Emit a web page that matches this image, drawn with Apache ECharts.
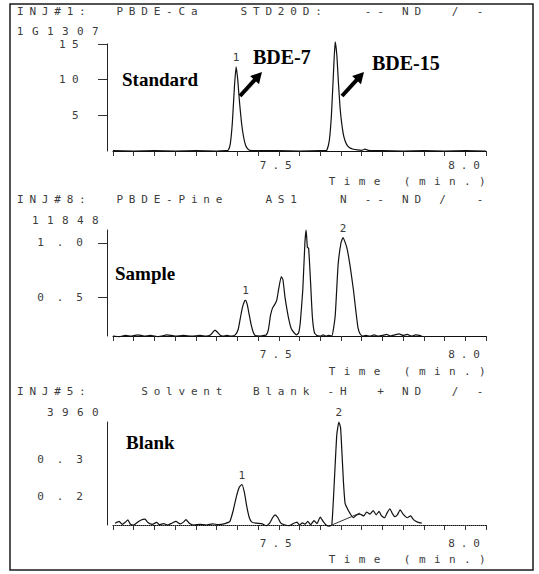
<!DOCTYPE html>
<html><head><meta charset="utf-8">
<script src="https://cdn.jsdelivr.net/npm/echarts@6/dist/echarts.min.js"></script>
<style>html,body{margin:0;padding:0;background:#fff}#c{width:539px;height:574px}#c text{white-space:pre}</style>
</head><body><div id="c"></div>
<script>
// ---------------- data ----------------
const panelTitles = ["INJ#1:  PBDE-Ca   STD20D:   -- ND  / -", "INJ#8:  PBDE-Pine   AS1   N -- ND /  -", "INJ#5:    Solvent  Blank -H  + ND  / -"];
const panelUnits = ["1G1307", "11848", "3960"];
const panelNames = ["Standard", "Sample", "Blank"];
const compoundNames = ["BDE-7", "BDE-15"];
const xAxisTitle = "Time (min.)";
const xTickValues = [7.10,7.15,7.20,7.25,7.30,7.35,7.40,7.45,7.50,7.55,7.60,7.65,7.70,7.75,7.80,7.85,7.90,7.95,8.00];
const xLabelValues = [7.5, 8.0];
const xLabelTexts = ["7.5", "8.0"];
const stdTickValues = [5, 10, 15];
const stdTickLabels = ["5", "10", "15"];
const sampleTickValues = [0.5, 1.0];
const sampleTickLabels = ["0.5", "1.0"];
const blankTickValues = [0.2, 0.3];
const blankTickLabels = ["0.2", "0.3"];

const stdTime = [7.10,7.15,7.20,7.25,7.30,7.35,7.372,7.378,7.383,7.388,7.393,7.397,7.401,7.405,7.410,7.415,7.420,7.425,7.430,7.45,7.50,7.55,7.60,7.612,7.616,7.622,7.627,7.632,7.636,7.640,7.644,7.648,7.652,7.657,7.663,7.670,7.680,7.690,7.700,7.708,7.716,7.73,7.75,7.80,7.85,7.90,7.95,8.00];
const stdSignal = [0.05,0,0.05,0,0.05,0,0.05,0.1,1.0,4.0,9.0,11.8,10.0,7.0,4.0,2.0,0.8,0.3,0.1,0.05,0.05,0,0.05,0.05,0.1,1.5,5.0,11.0,15.3,13.5,9.5,6.0,3.8,2.0,1.0,0.5,0.25,0.15,0.1,0.25,0.1,0.05,0.05,0,0.05,0,0.05,0];
const stdPeakTimes = [7.397, 7.636];
const stdPeakTexts = ["1", "2"];

const sampleTime = [7.100,7.115,7.130,7.145,7.160,7.175,7.190,7.210,7.230,7.250,7.270,7.290,7.310,7.325,7.335,7.342,7.346,7.352,7.358,7.365,7.375,7.385,7.395,7.402,7.407,7.412,7.417,7.420,7.424,7.428,7.433,7.438,7.443,7.455,7.465,7.470,7.475,7.480,7.485,7.490,7.495,7.500,7.506,7.510,7.515,7.520,7.525,7.530,7.537,7.543,7.548,7.552,7.558,7.563,7.566,7.569,7.572,7.576,7.581,7.586,7.592,7.600,7.607,7.613,7.620,7.628,7.636,7.643,7.650,7.655,7.664,7.672,7.680,7.686,7.691,7.696,7.702,7.710,7.720,7.730,7.740,7.750,7.760,7.770,7.780,7.790,7.800,7.810,7.820,7.830,7.845];
const sampleSignal = [0.140,0.135,0.145,0.140,0.150,0.140,0.145,0.135,0.150,0.140,0.145,0.140,0.145,0.140,0.150,0.180,0.195,0.175,0.150,0.140,0.145,0.140,0.150,0.200,0.300,0.400,0.460,0.470,0.430,0.350,0.250,0.180,0.145,0.140,0.145,0.150,0.200,0.330,0.400,0.430,0.470,0.580,0.690,0.660,0.500,0.380,0.280,0.210,0.170,0.150,0.170,0.270,0.570,1.000,1.120,0.960,0.950,0.690,0.320,0.170,0.145,0.140,0.150,0.140,0.145,0.140,0.320,0.790,1.000,1.050,0.960,0.790,0.570,0.370,0.220,0.160,0.140,0.145,0.140,0.150,0.140,0.145,0.155,0.140,0.150,0.160,0.145,0.155,0.140,0.150,0.140];
const samplePeakTimes = [7.420, 7.655];
const samplePeakTexts = ["1", "2"];

const blankTime = [7.105,7.115,7.122,7.130,7.136,7.142,7.150,7.160,7.168,7.177,7.185,7.195,7.205,7.212,7.222,7.232,7.242,7.252,7.262,7.270,7.276,7.284,7.295,7.310,7.325,7.340,7.355,7.370,7.382,7.390,7.398,7.405,7.411,7.417,7.423,7.429,7.435,7.445,7.460,7.470,7.478,7.485,7.491,7.498,7.505,7.515,7.525,7.535,7.544,7.550,7.557,7.563,7.570,7.577,7.585,7.592,7.600,7.607,7.614,7.622,7.628,7.634,7.640,7.645,7.649,7.652,7.656,7.660,7.667,7.673,7.680,7.688,7.696,7.705,7.712,7.720,7.728,7.735,7.742,7.748,7.755,7.762,7.768,7.775,7.780,7.786,7.793,7.800,7.810,7.818,7.825,7.835,7.845];
const blankSignal = [0.125,0.130,0.122,0.128,0.134,0.122,0.120,0.128,0.134,0.136,0.126,0.122,0.127,0.121,0.124,0.120,0.125,0.130,0.123,0.128,0.135,0.125,0.120,0.122,0.120,0.123,0.121,0.124,0.130,0.160,0.200,0.225,0.232,0.210,0.170,0.140,0.128,0.125,0.123,0.118,0.125,0.140,0.148,0.140,0.125,0.120,0.118,0.124,0.128,0.120,0.126,0.122,0.130,0.121,0.132,0.124,0.142,0.130,0.120,0.117,0.120,0.240,0.370,0.405,0.390,0.330,0.240,0.180,0.162,0.150,0.140,0.148,0.150,0.145,0.156,0.150,0.160,0.148,0.158,0.145,0.140,0.155,0.165,0.150,0.143,0.148,0.162,0.150,0.140,0.145,0.135,0.128,0.125];
const blankPeakTimes = [7.411, 7.645];
const blankPeakTexts = ["1", "2"];
const blankBaseTime = [7.628, 7.696];
const blankBaseSignal = [0.120, 0.153];

// ---------------- chart ----------------
const MONO = "'DejaVu Sans Mono', monospace";
const SERIF = "'Liberation Serif', 'Times New Roman', serif";
const GRAYTXT = '#3c3c3c';

function pairs(ts, vs) { const n = Math.min(ts.length, vs.length); const out = []; for (let i = 0; i < n; i++) out.push([ts[i], vs[i]]); return out; }
function peakMarks(ts, vs, pts, txt) {
  return pts.map((t, k) => { const j = ts.indexOf(t); return { coord: [t, vs[j]], value: txt[k] }; });
}

const grids = [
  { left: 113, top: 44, width: 373, height: 107 },
  { left: 113, top: 230, width: 373, height: 106 },
  { left: 113, top: 422, width: 373, height: 103 }
];
const yRanges = [[0, 15], [0.14, 1.12], [0.12, 0.405]];
const yTicks = [[stdTickValues, stdTickLabels], [sampleTickValues, sampleTickLabels], [blankTickValues, blankTickLabels]];
const yLabelMargins = [22, 11, 11];
const unitGaps = [13, 10, 10];
const xLabelMargins = [9, 13, 13];
const xNamePads = [25, 30, 29];

const xAxes = grids.map((g, i) => ({
  gridIndex: i, type: 'value', min: 7.1, max: 8.0,
  axisLine: { show: true, onZero: false, lineStyle: { color: '#111', width: i === 2 ? 1 : 1.2, type: i === 2 ? 'dotted' : 'solid' } },
  axisTick: { show: true, customValues: xTickValues, length: 5, lineStyle: { color: '#333', width: 1 } },
  axisLabel: { show: true, customValues: xLabelValues, formatter: v => xLabelTexts[xLabelValues.indexOf(v)] || '', margin: xLabelMargins[i], fontFamily: MONO, fontSize: 11, color: GRAYTXT, alignMaxLabel: 'right' },
  splitLine: { show: false },
  name: xAxisTitle, nameLocation: 'end', nameGap: 8,
  nameTextStyle: { fontFamily: MONO, fontSize: 11, color: GRAYTXT, align: 'right', verticalAlign: 'top', padding: [xNamePads[i], 0, 0, 0] }
}));

const yAxes = grids.map((g, i) => ({
  gridIndex: i, type: 'value', min: yRanges[i][0], max: yRanges[i][1], offset: 6,
  axisLine: { show: true, onZero: false, lineStyle: { color: '#222', width: 1 } },
  axisTick: { show: i < 2, customValues: yTicks[i][0], length: 9, lineStyle: { color: '#333' } },
  axisLabel: { show: true, customValues: yTicks[i][0], formatter: v => { const k = yTicks[i][0].indexOf(v); return k >= 0 ? yTicks[i][1][k] : ''; }, margin: yLabelMargins[i], fontFamily: MONO, fontSize: 11, color: GRAYTXT },
  splitLine: { show: false },
  name: panelUnits[i], nameLocation: 'end', nameGap: unitGaps[i],
  nameTextStyle: { fontFamily: MONO, fontSize: 11, color: GRAYTXT, align: 'right', verticalAlign: 'middle', padding: 0 }
}));

const traces = [
  [stdTime, stdSignal, stdPeakTimes, stdPeakTexts],
  [sampleTime, sampleSignal, samplePeakTimes, samplePeakTexts],
  [blankTime, blankSignal, blankPeakTimes, blankPeakTexts]
];
const series = traces.map((tr, i) => ({
  type: 'line', xAxisIndex: i, yAxisIndex: i, name: panelNames[i],
  data: pairs(tr[0], tr[1]), symbol: 'none', showSymbol: false, smooth: 0.15, clip: false,
  lineStyle: { color: '#111', width: 1.2 },
  markPoint: {
    symbol: 'circle', symbolSize: 0, silent: true,
    label: { show: true, position: 'top', distance: 4, formatter: '{c}', fontFamily: MONO, fontSize: 11, color: GRAYTXT },
    data: peakMarks(tr[0], tr[1], tr[2], tr[3])
  }
}));
series.push({
  type: 'line', xAxisIndex: 2, yAxisIndex: 2, data: pairs(blankBaseTime, blankBaseSignal),
  symbol: 'none', clip: false, lineStyle: { color: '#333', width: 1 }
});

function arrow(x0, y0, x1, y1) {
  const dx = x1 - x0, dy = y1 - y0, L = Math.hypot(dx, dy), ux = dx / L, uy = dy / L;
  const bx = x1 - ux * 11, by = y1 - uy * 11, px = -uy * 6, py = ux * 6;
  return [
    { type: 'line', shape: { x1: x0, y1: y0, x2: bx + ux * 2, y2: by + uy * 2 }, style: { stroke: '#000', lineWidth: 4 } },
    { type: 'polygon', shape: { points: [[x1, y1], [bx + px, by + py], [bx - px, by - py]] }, style: { fill: '#000' } }
  ];
}

const graphic = [
  { type: 'rect', shape: { x: 10, y: 4, width: 523, height: 566 }, style: { fill: 'none', stroke: '#1a1a1a', lineWidth: 1.5 } },
  { type: 'text', x: 122, y: 79, style: { text: panelNames[0], font: "bold 19px " + SERIF, fill: '#000', textVerticalAlign: 'middle', verticalAlign: 'middle' } },
  { type: 'text', x: 115, y: 273, style: { text: panelNames[1], font: "bold 19px " + SERIF, fill: '#000', verticalAlign: 'middle' } },
  { type: 'text', x: 126, y: 442, style: { text: panelNames[2], font: "bold 19px " + SERIF, fill: '#000', verticalAlign: 'middle' } },
  { type: 'text', x: 253, y: 57, style: { text: compoundNames[0], font: "bold 20px " + SERIF, fill: '#000', verticalAlign: 'middle' } },
  { type: 'text', x: 372, y: 63, style: { text: compoundNames[1], font: "bold 20px " + SERIF, fill: '#000', verticalAlign: 'middle' } }
].concat(arrow(240, 96, 262, 72), arrow(342, 96, 364, 72));

const chart = echarts.init(document.getElementById('c'), null, { renderer: 'svg', width: 539, height: 574 });
chart.setOption({
  animation: false,
  backgroundColor: '#fff',
  title: panelTitles.map((t, i) => ({ text: t, left: 17, top: [6, 194, 386][i], padding: 0, textStyle: { fontFamily: MONO, fontSize: 11, fontWeight: 'normal', color: GRAYTXT } })),
  grid: grids,
  xAxis: xAxes,
  yAxis: yAxes,
  series: series,
  graphic: graphic
});

// spread the dot-matrix style text like the printout
const spacing = new Map();
panelTitles.forEach(t => spacing.set(t, 5.8));
panelUnits.forEach(t => spacing.set(t, 8.4));
spacing.set(xAxisTitle, 8.4);
xLabelTexts.forEach(t => spacing.set(t, 6));
stdTickLabels.forEach(t => spacing.set(t, 6.4));
sampleTickLabels.concat(blankTickLabels).forEach(t => spacing.set(t, 13));
function applySpacing() {
  document.querySelectorAll('#c text').forEach(el => {
    const s = spacing.get(el.textContent);
    if (s != null) el.setAttribute('letter-spacing', s + 'px');
  });
}
chart.on('finished', applySpacing);
try { chart.getZr().flush(); } catch (e) {}
applySpacing();
setTimeout(applySpacing, 50);
setTimeout(applySpacing, 300);
</script>
</body></html>
